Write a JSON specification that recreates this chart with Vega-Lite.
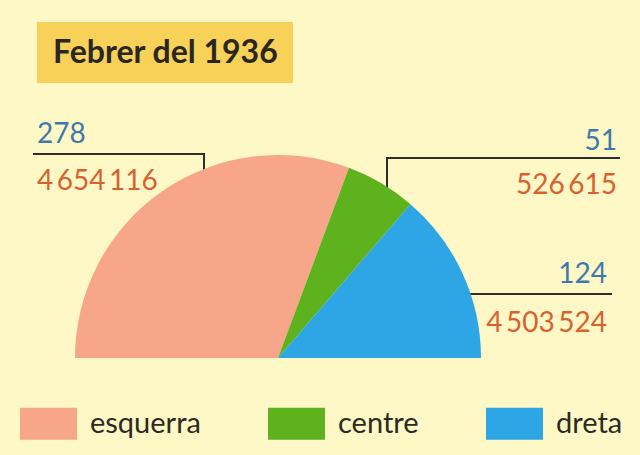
{
  "$schema": "https://vega.github.io/schema/vega-lite/v6.json",
  "width": 640,
  "height": 455,
  "autosize": {"type": "none"},
  "padding": 0,
  "background": "#fdf8c6",
  "config": {
    "view": {"stroke": null},
    "font": "Lato",
    "locale": {"number": {"decimal": ",", "thousands": "\u2009", "grouping": [3], "currency": ["", " €"]}}
  },
  "datasets": {
    "parties": [
      {"party": "esquerra", "seats": 278, "votes": 4654116, "ord": 1},
      {"party": "centre", "seats": 51, "votes": 526615, "ord": 2},
      {"party": "dreta", "seats": 124, "votes": 4503524, "ord": 3}
    ]
  },
  "data": {"name": "parties"},
  "layer": [
    {
      "data": {"values": [{}]},
      "mark": {"type": "rect", "color": "#f7d158"},
      "encoding": {
        "x": {"datum": -241, "type": "quantitative", "scale": {"domain": [-278, 362], "nice": false, "zero": false}, "axis": null},
        "x2": {"datum": 15},
        "y": {"datum": 336, "type": "quantitative", "scale": {"domain": [-97, 358], "nice": false, "zero": false}, "axis": null},
        "y2": {"datum": 275}
      }
    },
    {
      "data": {"values": [{"title": "Febrer del 1936"}]},
      "mark": {"type": "text", "font": "Lato", "fontWeight": "bold", "fontSize": 32, "color": "#2a2620", "align": "left", "baseline": "alphabetic"},
      "encoding": {
        "x": {"datum": -225, "type": "quantitative"},
        "y": {"datum": 295, "type": "quantitative"},
        "text": {"field": "title"}
      }
    },
    {
      "data": {"values": [{}]},
      "mark": {"type": "rule", "color": "#2e2c28", "strokeWidth": 2},
      "encoding": {"x": {"datum": -245}, "x2": {"datum": -74}, "y": {"datum": 204}, "y2": {"datum": 204}}
    },
    {
      "data": {"values": [{}]},
      "mark": {"type": "rule", "color": "#2e2c28", "strokeWidth": 2},
      "encoding": {"x": {"datum": -74}, "x2": {"datum": -74}, "y": {"datum": 205}, "y2": {"datum": 180}}
    },
    {
      "data": {"values": [{}]},
      "mark": {"type": "rule", "color": "#2e2c28", "strokeWidth": 2},
      "encoding": {"x": {"datum": 109}, "x2": {"datum": 342}, "y": {"datum": 200}, "y2": {"datum": 200}}
    },
    {
      "data": {"values": [{}]},
      "mark": {"type": "rule", "color": "#2e2c28", "strokeWidth": 2},
      "encoding": {"x": {"datum": 109}, "x2": {"datum": 109}, "y": {"datum": 201}, "y2": {"datum": 165}}
    },
    {
      "data": {"values": [{}]},
      "mark": {"type": "rule", "color": "#2e2c28", "strokeWidth": 2},
      "encoding": {"x": {"datum": 186}, "x2": {"datum": 334}, "y": {"datum": 64}, "y2": {"datum": 64}}
    },
    {
      "mark": {"type": "arc", "outerRadius": 203},
      "encoding": {
        "x": {"datum": 0, "type": "quantitative"},
        "y": {"datum": 0, "type": "quantitative"},
        "theta": {"field": "seats", "type": "quantitative", "stack": true, "scale": {"range": [-1.5708, 1.5708]}},
        "order": {"field": "ord", "type": "quantitative"},
        "color": {
          "field": "party",
          "type": "nominal",
          "scale": {"domain": ["esquerra", "centre", "dreta"], "range": ["#f7a68a", "#5db21e", "#2ea6e6"]},
          "sort": ["esquerra", "centre", "dreta"],
          "legend": {
            "orient": "none",
            "legendX": 20,
            "legendY": 395,
            "direction": "horizontal",
            "title": null,
            "symbolType": "M-1,-0.56H1V0.56H-1Z",
            "symbolSize": 3249,
            "symbolStrokeWidth": 0,
            "symbolOpacity": 1,
            "labelFont": "Lato",
            "labelFontSize": 29,
            "labelColor": "#2d2a22",
            "labelOffset": 13,
            "columnPadding": 67,
            "padding": 0
          }
        }
      }
    },
    {
      "transform": [{"filter": "datum.party === 'esquerra'"}],
      "mark": {"type": "text", "fontSize": 28, "align": "left", "baseline": "alphabetic", "color": "#3f78ad"},
      "encoding": {"x": {"datum": -241}, "y": {"datum": 215}, "text": {"field": "seats", "type": "quantitative"}}
    },
    {
      "transform": [{"filter": "datum.party === 'esquerra'"}],
      "mark": {"type": "text", "fontSize": 28, "align": "left", "baseline": "alphabetic", "color": "#d9612f"},
      "encoding": {"x": {"datum": -241}, "y": {"datum": 168}, "text": {"field": "votes", "type": "quantitative", "format": ","}}
    },
    {
      "transform": [{"filter": "datum.party === 'centre'"}],
      "mark": {"type": "text", "fontSize": 28, "align": "right", "baseline": "alphabetic", "color": "#3f78ad"},
      "encoding": {"x": {"datum": 339}, "y": {"datum": 208}, "text": {"field": "seats", "type": "quantitative"}}
    },
    {
      "transform": [{"filter": "datum.party === 'centre'"}],
      "mark": {"type": "text", "fontSize": 28, "align": "right", "baseline": "alphabetic", "color": "#d9612f"},
      "encoding": {"x": {"datum": 339}, "y": {"datum": 164}, "text": {"field": "votes", "type": "quantitative", "format": ","}}
    },
    {
      "transform": [{"filter": "datum.party === 'dreta'"}],
      "mark": {"type": "text", "fontSize": 28, "align": "right", "baseline": "alphabetic", "color": "#3f78ad"},
      "encoding": {"x": {"datum": 329}, "y": {"datum": 75}, "text": {"field": "seats", "type": "quantitative"}}
    },
    {
      "transform": [{"filter": "datum.party === 'dreta'"}],
      "mark": {"type": "text", "fontSize": 28, "align": "right", "baseline": "alphabetic", "color": "#d9612f"},
      "encoding": {"x": {"datum": 329}, "y": {"datum": 26}, "text": {"field": "votes", "type": "quantitative", "format": ","}}
    }
  ]
}
